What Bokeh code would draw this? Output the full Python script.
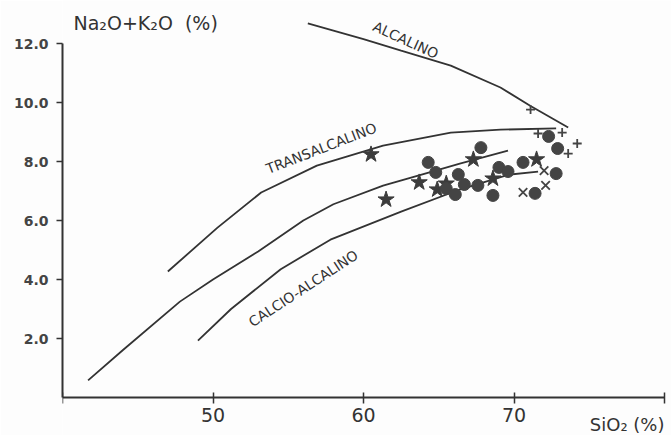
from bokeh.plotting import figure
from bokeh.models import Range1d, FixedTicker, Label
from bokeh.core.properties import value
from bokeh.embed import file_html
from bokeh.resources import INLINE

# ---- data ----
alc_x = [56.3, 60.0, 62.5, 65.8, 69.1, 71.1, 73.6]
alc_y = [12.68, 12.15, 11.76, 11.25, 10.51, 9.88, 9.15]

trans_x = [47.0, 50.3, 53.2, 56.9, 61.3, 65.8, 69.1, 72.8]
trans_y = [4.27, 5.76, 6.95, 7.86, 8.54, 8.98, 9.08, 9.12]

mid_x = [41.7, 44.0, 47.8, 50.0, 53.0, 56.0, 58.0, 61.3, 64.5, 66.4, 69.6]
mid_y = [0.58, 1.6, 3.25, 4.0, 4.95, 6.0, 6.55, 7.18, 7.65, 7.93, 8.37]

calc_x = [49.0, 51.2, 54.5, 57.8, 62.5, 66.4, 69.6, 71.6]
calc_y = [1.93, 3.0, 4.35, 5.35, 6.3, 7.05, 7.55, 7.66]

star_x = [60.5, 61.5, 63.7, 64.9, 65.5, 67.3, 68.6, 71.5]
star_y = [8.24, 6.71, 7.29, 7.05, 7.25, 8.07, 7.42, 8.07]

circ_x = [64.3, 64.8, 65.5, 66.1, 66.3, 66.7, 67.6, 67.8, 68.6, 69.0, 69.6, 70.6, 71.4, 72.3, 72.8, 72.9]
circ_y = [7.97, 7.63, 7.08, 6.88, 7.56, 7.22, 7.19, 8.47, 6.85, 7.80, 7.66, 7.97, 6.92, 8.85, 7.59, 8.44]

xm_x = [70.6, 72.1, 72.0]
xm_y = [6.95, 7.19, 7.69]

plus_x = [71.1, 71.6, 73.2, 74.2, 73.6]
plus_y = [9.76, 8.95, 8.98, 8.61, 8.27]

x_ticks = [40, 50, 60, 70, 80]
x_tick_labels = {40: "", 50: "50", 60: "60", 70: "70", 80: ""}
y_ticks = [2, 4, 6, 8, 10, 12]
y_tick_labels = {2: "2.0", 4: "4.0", 6: "6.0", 8: "8.0", 10: "10.0", 12: "12.0"}

INK = "#333333"
PX_X = 15.05   # pixels per SiO2 unit
PX_Y = 29.5    # pixels per Na2O+K2O unit

p = figure(width=671, height=435, output_backend="svg", toolbar_location=None,
           x_range=Range1d(40, 40 + (671 - 62) / PX_X),
           y_range=Range1d(-38 / PX_Y, 397 / PX_Y),
           min_border_left=62, min_border_right=0, min_border_top=0, min_border_bottom=0,
           background_fill_color="#fdfdfd", border_fill_color="#fdfdfd")
p.outline_line_color = None
p.grid.visible = False

# axes
p.xaxis.fixed_location = 0
p.xaxis.ticker = FixedTicker(ticks=x_ticks)
p.xaxis.major_label_overrides = x_tick_labels
p.xaxis.bounds = (40, 80)
p.xaxis.axis_line_width = 2
p.xaxis.axis_line_color = INK
p.xaxis.major_tick_line_color = INK
p.xaxis.major_tick_line_width = 1.5
p.xaxis.major_tick_in = 5
p.xaxis.major_tick_out = 6
p.xaxis.minor_tick_line_color = None
p.xaxis.major_label_text_font = "DejaVu Sans"
p.xaxis.major_label_text_font_size = "19px"
p.xaxis.major_label_text_color = INK
p.xaxis.major_label_standoff = 4

p.yaxis.ticker = FixedTicker(ticks=y_ticks)
p.yaxis.major_label_overrides = y_tick_labels
p.yaxis.bounds = (0, 12)
p.yaxis.axis_line_width = 2
p.yaxis.axis_line_color = INK
p.yaxis.major_tick_line_color = INK
p.yaxis.major_tick_line_width = 1.5
p.yaxis.major_tick_in = 0
p.yaxis.major_tick_out = 6
p.yaxis.minor_tick_line_color = None
p.yaxis.major_label_text_font = "DejaVu Sans"
p.yaxis.major_label_text_font_size = "14px"
p.yaxis.major_label_text_font_style = "bold"
p.yaxis.major_label_text_color = "#444444"
p.yaxis.major_label_standoff = 8

# curves
for cx, cy in [(alc_x, alc_y), (trans_x, trans_y), (mid_x, mid_y), (calc_x, calc_y)]:
    p.line(cx, cy, line_color=INK, line_width=1.8)

# curve names
name_style = dict(text_font=value("DejaVu Sans"), text_font_size="14px", text_color=INK,
                  text_align="center", text_baseline="middle")
p.text(x=[62.8], y=[12.12], text=["ALCALINO"], angle=-0.43, **name_style)
p.text(x=[57.2], y=[8.45], text=["TRANSALCALINO"], angle=0.37, **name_style)
p.text(x=[56.0], y=[3.7], text=["CALCIO-ALCALINO"], angle=0.58, **name_style)

# samples
p.scatter(star_x, star_y, marker="star", size=17, fill_color="#3c3c3c", line_color="#3c3c3c")
p.scatter(circ_x, circ_y, marker="circle", size=12, fill_color="#444444", line_color="#444444")
p.scatter(xm_x, xm_y, marker="x", size=12, line_color="#444444", line_width=1.8)
p.scatter(plus_x, plus_y, marker="cross", size=9, line_color="#444444", line_width=1.8)

# axis titles
p.add_layout(Label(x=40.73, y=12.7, text="Na₂O+K₂O\u00a0 (%)", text_font="DejaVu Sans",
                   text_font_size="19px", text_color=INK, text_baseline="middle"))
p.add_layout(Label(x=80.0, y=-0.9, text="SiO₂ (%)", text_font="DejaVu Sans",
                   text_font_size="18px", text_color=INK, text_baseline="middle",
                   text_align="right"))

open("out.html", "w").write(file_html(p, INLINE))
